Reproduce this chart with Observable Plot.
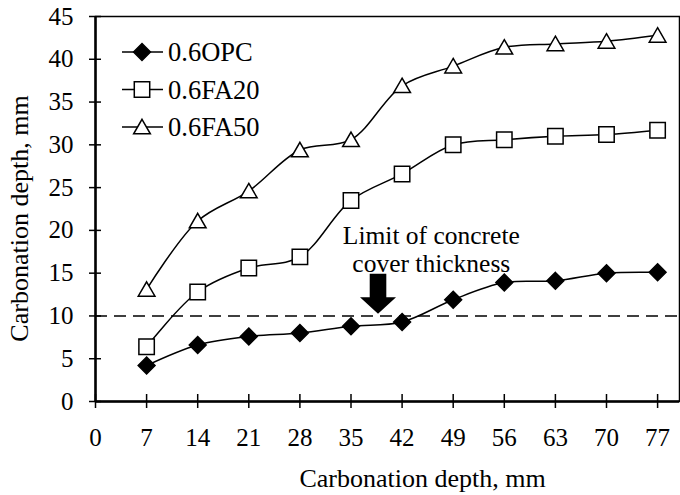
<!DOCTYPE html>
<html>
<head>
<meta charset="utf-8">
<script src="https://cdn.jsdelivr.net/npm/d3@7"></script>
<script src="https://cdn.jsdelivr.net/npm/@observablehq/plot@0.6"></script>
<style>
  html, body { margin: 0; padding: 0; background: white; }
  #chart { position: relative; width: 680px; height: 495px; }
  #chart svg.overlay { position: absolute; left: 0; top: 0; pointer-events: none; }
</style>
</head>
<body>
<div id="chart"></div>
<script>
// ---- data ----
const days = [7, 14, 21, 28, 35, 42, 49, 56, 63, 70, 77];
const opc  = [4.2, 6.6, 7.6, 8.0, 8.8, 9.3, 11.9, 13.9, 14.1, 15.0, 15.1];
const fa20 = [6.4, 12.8, 15.6, 16.9, 23.5, 26.6, 30.0, 30.6, 31.0, 31.2, 31.7];
const fa50 = [13.1, 21.1, 24.6, 29.4, 30.6, 36.9, 39.2, 41.4, 41.8, 42.1, 42.8];
const seriesNames = ["0.6OPC", "0.6FA20", "0.6FA50"];
const xTicks = [0, 7, 14, 21, 28, 35, 42, 49, 56, 63, 70, 77];
const yTicks = [0, 5, 10, 15, 20, 25, 30, 35, 40, 45];
const limitValue = [10];
const annotationText = ["Limit of concrete\ncover thickness"];
const annotationPos = [{x: 46, y: 17.8}];
const arrowPos = [{x: 38.7, y: 10.25}];
const xTitle = "Carbonation depth, mm";
const yTitle = "Carbonation depth, mm";

// ---- build table ----
const seriesValues = [opc, fa20, fa50];
const rows = [];
seriesValues.forEach((vals, s) => vals.forEach((v, i) => rows.push({series: seriesNames[s], day: days[i], value: v})));
const rowsOf = name => rows.filter(r => r.series === name);

const FONT = '"Liberation Serif", "Times New Roman", serif';

// block arrow symbol (anchor at the tip)
const blockArrow = {
  draw(ctx) {
    ctx.moveTo(-8.3, -40);
    ctx.lineTo(8.3, -40);
    ctx.lineTo(8.3, -16.6);
    ctx.lineTo(18, -16.6);
    ctx.lineTo(0, 0);
    ctx.lineTo(-18, -16.6);
    ctx.lineTo(-8.3, -16.6);
    ctx.closePath();
  }
};

const styles = {
  "0.6OPC":  {symbol: "diamond2", r: 7.6, fill: "black", dy: 0},
  "0.6FA20": {symbol: "square",   r: 8.7, fill: "white", dy: 0},
  "0.6FA50": {symbol: "triangle", r: 6.2, fill: "white", dy: 2}
};

const chart = Plot.plot({
  width: 680,
  height: 495,
  marginLeft: 95,
  marginRight: 1,
  marginTop: 16,
  marginBottom: 94,
  x: {domain: [0, 80]},
  y: {domain: [0, 45]},
  style: {fontFamily: FONT, fontSize: "25px", color: "black", background: "white"},
  marks: [
    Plot.frame({stroke: "black", strokeWidth: 1.5}),
    Plot.ruleY(limitValue, {stroke: "black", strokeWidth: 1.5, strokeDasharray: "12,7"}),
    Plot.axisX({ticks: xTicks, tickSize: 14, dy: -7, strokeWidth: 1.5, fill: "none", label: null}),
    Plot.axisX({ticks: xTicks, tickSize: 0, tickPadding: 27, tickFormat: d => String(d), label: null, fontSize: 25}),
    Plot.axisY({ticks: yTicks, tickSize: 12, dx: 6, strokeWidth: 1.5, fill: "none", label: null}),
    Plot.axisY({ticks: yTicks, tickSize: 0, tickPadding: 22, tickFormat: d => String(d), label: null, fontSize: 25}),
    Plot.ruleX([0], {stroke: "black", strokeWidth: 2.5}),
    Plot.ruleY([0], {stroke: "black", strokeWidth: 2.5}),
    Plot.text([xTitle], {frameAnchor: "bottom", dx: 35, dy: 77, text: d => d, textAnchor: "middle", lineAnchor: "middle", fontSize: 26}),
    Plot.text([yTitle], {frameAnchor: "left", dx: -75.5, dy: 9.5, rotate: -90, text: d => d, textAnchor: "middle", lineAnchor: "middle", fontSize: 26}),
    Plot.line(rows, {x: "day", y: "value", z: "series", curve: "catmull-rom", stroke: "black", strokeWidth: 1.5}),
    ...seriesNames.map(name => Plot.dot(rowsOf(name), {
      x: "day", y: "value",
      symbol: styles[name].symbol, r: styles[name].r,
      fill: styles[name].fill, stroke: "black", strokeWidth: 1.5, dy: styles[name].dy
    })),
    Plot.text(annotationText, {x: annotationPos[0].x, y: annotationPos[0].y, text: d => d, lineHeight: 1.08, textAnchor: "middle", lineAnchor: "middle", fontSize: 25.5}),
    Plot.dot(arrowPos, {x: "x", y: "y", symbol: blockArrow, r: 5, fill: "black", stroke: "none"})
  ]
});

const container = document.getElementById("chart");
container.appendChild(chart);

// ---- legend overlay ----
const legendRowsY = [52, 89.5, 127];
const symbolMap = {diamond2: d3.symbolDiamond2, square: d3.symbolSquare, triangle: d3.symbolTriangle};
const overlay = d3.select(container).append("svg")
  .attr("class", "overlay")
  .attr("width", 680).attr("height", 495)
  .style("font-family", FONT).style("font-size", "26.5px");
seriesNames.forEach((name, i) => {
  const st = styles[name];
  const g = overlay.append("g").attr("transform", `translate(0,${legendRowsY[i]})`);
  g.append("line").attr("x1", 122).attr("x2", 163).attr("y1", 0).attr("y2", 0)
    .attr("stroke", "black").attr("stroke-width", 1.5);
  g.append("path")
    .attr("d", d3.symbol(symbolMap[st.symbol], Math.PI * st.r * st.r)())
    .attr("transform", `translate(142,${st.dy})`)
    .attr("fill", st.fill).attr("stroke", "black").attr("stroke-width", 1.5);
  g.append("text").attr("x", 168).attr("y", 0).attr("dy", "0.35em").attr("fill", "black").text(name);
});
</script>
</body>
</html>
